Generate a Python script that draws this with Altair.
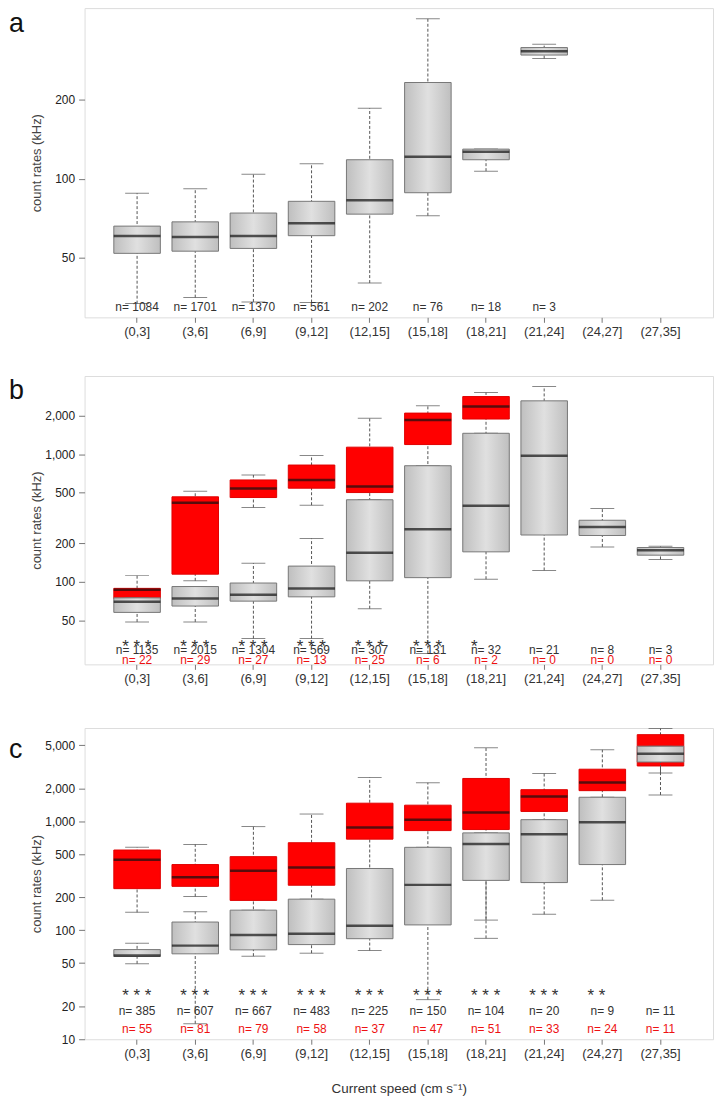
import altair as alt
import pandas as pd

cats = ["(0,3]", "(3,6]", "(6,9]", "(9,12]", "(12,15]", "(15,18]",
        "(18,21]", "(21,24]", "(24,27]", "(27,35]"]

# ---------------- panel a (grey only) ----------------
a_lo = [33.5, 35.3, 34.0, 33.8, 40.1, 72.3, 106.8, 286, None, None]
a_q1 = [52.0, 53.0, 54.3, 60.7, 73.3, 88.4, 118, 295, None, None]
a_med = [60.5, 60.0, 60.5, 67.7, 82.7, 121, 126.6, 305, None, None]
a_q3 = [66.0, 68.5, 74.0, 82.0, 118, 232, 129.5, 315, None, None]
a_hi = [88.0, 91.5, 104, 114, 185, 405, 129.5, 324, None, None]
a_n = [1084, 1701, 1370, 561, 202, 76, 18, 3, None, None]

# ---------------- panel b ----------------
b_grey_lo = [48.6, 48.6, 36, 36, 61.7, 27.5, 105, 123, 188, 150]
b_grey_q1 = [57.7, 64.7, 70.7, 76.4, 102, 108, 172, 233, 231, 162]
b_grey_med = [70, 74.2, 79.4, 88.8, 169, 258, 395, 973, 269, 177]
b_grey_q3 = [75, 92, 98, 133, 440, 813, 1459, 2620, 304, 186]
b_grey_hi = [75, 92, 140, 219, 440, 813, 1459, 3387, 376, 190]
b_red_lo = [74, 102, 383, 399, 430, 700, 1300, None, None, None]
b_red_q1 = [74, 115, 458, 542, 501, 1191, 1887, None, None, None]
b_red_med = [87, 417, 539, 629, 558, 1853, 2367, None, None, None]
b_red_q3 = [89, 464, 629, 823, 1136, 2100, 2830, None, None, None]
b_red_hi = [112, 513, 688, 978, 1910, 2396, 3042, None, None, None]
b_n_grey = [1135, 2015, 1304, 569, 307, 131, 32, 21, 8, 3]
b_n_red = [22, 29, 27, 13, 25, 6, 2, 0, 0, 0]
b_stars = ["***", "***", "***", "***", "***", "***", "*", "", "", ""]

# ---------------- panel c ----------------
c_grey_lo = [49.3, 13.9, 57.9, 61.6, 65.2, 23.1, 84.3, 140, 189, 2780]
c_grey_q1 = [57.5, 60.8, 66.1, 73.9, 83.7, 112, 287, 274, 401, 3500]
c_grey_med = [58.7, 72.3, 90.4, 92.9, 110, 261, 618, 762, 979, 4170]
c_grey_q3 = [66.5, 119, 153, 193, 369, 577, 783, 1035, 1662, 4890]
c_grey_hi = [76, 148, 153, 193, 369, 577, 783, 1035, 1662, 4890]
c_red_lo = [146, 204, 140, 180, 340, 500, 124, 900, 1500, 1744]
c_red_q1 = [241, 253, 188, 259, 686, 822, 840, 1232, 1911, 3220]
c_red_med = [443, 306, 352, 377, 876, 1035, 1207, 1685, 2274, 4200]
c_red_q3 = [545, 401, 474, 636, 1466, 1406, 2473, 1951, 3006, 6240]
c_red_hi = [577, 614, 894, 1166, 2525, 2258, 4727, 2745, 4535, 7100]
c_n_grey = [385, 607, 667, 483, 225, 150, 104, 20, 9, 11]
c_n_red = [55, 81, 79, 58, 37, 47, 51, 33, 24, 11]
c_stars = ["***", "***", "***", "***", "***", "***", "***", "***", "**", ""]

FONT = "Liberation Sans, Arial, Helvetica, sans-serif"
RED = "#ff0000"
GREY_GRAD = alt.Gradient(
    gradient="linear",
    stops=[alt.GradientStop(color="#bfbfbf", offset=0),
           alt.GradientStop(color="#e0e0e0", offset=0.5),
           alt.GradientStop(color="#bfbfbf", offset=1)],
    x1=0, x2=1, y1=0, y2=0)
PLOT_W = 632


def box_df(lo, q1, med, q3, hi):
    rows = []
    for c, v1, v2, v3, v4, v5 in zip(cats, lo, q1, med, q3, hi):
        if v1 is None:
            continue
        rows.append(dict(cat=c, lo=v1, q1=v2, med=v3, q3=v4, hi=v5))
    return pd.DataFrame(rows)


def lbl_df(values, prefix=""):
    rows = []
    for c, v in zip(cats, values):
        if v is None or v == "":
            continue
        rows.append(dict(cat=c, t=(prefix + str(v)) if prefix else " ".join(list(v))))
    return pd.DataFrame(rows)


def panel(letter, letter_y, height, domain, ticks, boxes, n_grey, n_red, stars,
          pos, xtitle=None, star_size=17, extra_bottom=None):
    yscale = alt.Scale(type="log", domain=domain, nice=False)
    yaxis = alt.Axis(values=ticks, format=",", grid=False, domain=False,
                     tickSize=6, tickColor="#777", labelPadding=4,
                     labelFontSize=12, labelColor="#222", labelFont=FONT,
                     title="count rates (kHz)", titleFontSize=13, titleFont=FONT,
                     titleColor="#444", titleFontWeight="normal",
                     minExtent=38, maxExtent=38, titlePadding=3)
    xscale = alt.Scale(domain=cats, paddingInner=0.2, paddingOuter=0.503)
    if xtitle is None:
        xaxis = alt.Axis(grid=False, domain=False, tickSize=5, tickColor="#777",
                         labelPadding=3, labelFontSize=13, labelColor="#333",
                         labelFont=FONT, labelAngle=0, title=None)
    else:
        xaxis = alt.Axis(grid=False, domain=False, tickSize=5, tickColor="#777",
                         labelPadding=3, labelFontSize=13, labelColor="#333",
                         labelFont=FONT, labelAngle=0, title=xtitle,
                         titleFont=FONT, titleFontSize=13.5, titleColor="#333",
                         titleFontWeight="normal", titlePadding=22)

    def X():
        return alt.X("cat:N", scale=xscale, axis=xaxis)

    def Y(f):
        return alt.Y(f + ":Q", scale=yscale, axis=yaxis)

    layers = []
    for df, fill, stroke in boxes:
        base = alt.Chart(df)
        layers += [
            base.mark_rule(strokeDash=[3, 2], color="#555", strokeWidth=1, clip=True)
                .encode(x=X(), y=Y("lo"), y2="hi"),
            base.mark_tick(size=24, thickness=1, color="#555", clip=True)
                .encode(x=X(), y=Y("lo")),
            base.mark_tick(size=24, thickness=1, color="#555", clip=True)
                .encode(x=X(), y=Y("hi")),
            base.mark_bar(fill=fill, stroke=stroke, strokeWidth=1)
                .encode(x=X(), y=Y("q1"), y2="q3"),
            base.mark_tick(size=47, thickness=2.5, color="#111")
                .encode(x=X(), y=Y("med")),
        ]

    if stars is not None:
        layers.append(alt.Chart(lbl_df(stars)).mark_text(
            align="left", dx=-15, baseline="alphabetic", fontSize=star_size,
            font=FONT, color="#333").encode(x=X(), y=alt.value(pos["star"]), text="t:N"))
    layers.append(alt.Chart(lbl_df(n_grey, "n= ")).mark_text(
        baseline="alphabetic", fontSize=12, font=FONT, color="#333")
        .encode(x=X(), y=alt.value(pos["ng"]), text="t:N"))
    if n_red is not None:
        layers.append(alt.Chart(lbl_df(n_red, "n= ")).mark_text(
            baseline="alphabetic", fontSize=12, font=FONT, color="#ee1111")
            .encode(x=X(), y=alt.value(pos["nr"]), text="t:N"))
    layers.append(alt.Chart(pd.DataFrame({"t": [letter]})).mark_text(
        align="left", baseline="top", fontSize=27, font=FONT, color="#111")
        .encode(x=alt.value(-76), y=alt.value(letter_y), text="t:N"))
    if extra_bottom is not None:
        layers.append(alt.Chart(pd.DataFrame({"t": ["."]})).mark_text(
            baseline="bottom", fontSize=6, opacity=0)
            .encode(x=alt.value(300), y=alt.value(height + extra_bottom), text="t:N"))
    return alt.layer(*layers).properties(width=PLOT_W, height=height)


pa = panel("a", 2.7, 311, [29.7, 445], [50, 100, 200],
           [(box_df(a_lo, a_q1, a_med, a_q3, a_hi), GREY_GRAD, "#777777")],
           a_n, None, None, {"ng": 305})

pb = panel("b", 1.7, 290, [22.6, 4100], [50, 100, 200, 500, 1000, 2000],
           [(box_df(b_red_lo, b_red_q1, b_red_med, b_red_q3, b_red_hi), RED, "#e00000"),
            (box_df(b_grey_lo, b_grey_q1, b_grey_med, b_grey_q3, b_grey_hi), GREY_GRAD, "#777777")],
           b_n_grey, b_n_red, b_stars, {"star": 277.5, "ng": 279.5, "nr": 289.5},
           extra_bottom=26)

pc = panel("c", 8.7, 313, [10, 7180], [10, 20, 50, 100, 200, 500, 1000, 2000, 5000],
           [(box_df(c_red_lo, c_red_q1, c_red_med, c_red_q3, c_red_hi), RED, "#e00000"),
            (box_df(c_grey_lo, c_grey_q1, c_grey_med, c_grey_q3, c_grey_hi), GREY_GRAD, "#777777")],
           c_n_grey, c_n_red, c_stars, {"star": 275, "ng": 288.5, "nr": 307},
           xtitle="Current speed (cm s\u207b\u00b9)")

chart = alt.vconcat(pa, pb, pc, spacing=36,
                    padding={"left": 0, "top": -4, "right": 0, "bottom": 0}).configure_view(
    stroke="#8a8a8a", strokeWidth=1).configure(font=FONT)

chart.save("out.html", embed_options={"renderer": "svg", "actions": False})
